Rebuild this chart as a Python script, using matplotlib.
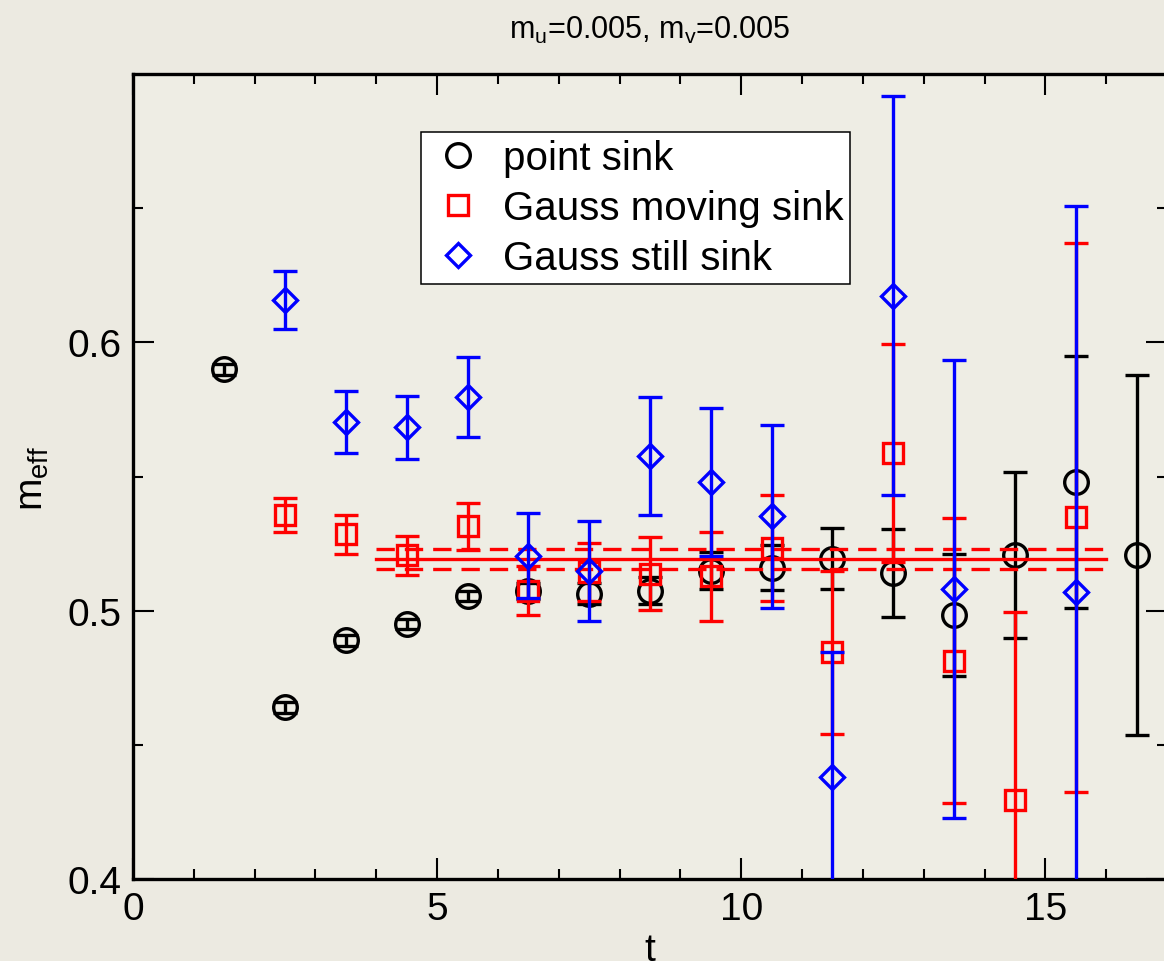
import matplotlib
matplotlib.use("Agg")
import matplotlib.pyplot as plt
from matplotlib.lines import Line2D
from matplotlib.ticker import MultipleLocator, FixedLocator

plt.rcParams['font.family'] = ['Liberation Sans', 'DejaVu Sans']
plt.rcParams['mathtext.fontset'] = 'custom'
plt.rcParams['mathtext.rm'] = 'Liberation Sans'

# effective mass vs. time slice
t_point = [1.5, 2.5, 3.5, 4.5, 5.5, 6.5, 7.5, 8.5, 9.5, 10.5, 11.5, 12.5, 13.5, 14.5, 15.5, 16.5]
m_point = [0.590, 0.464, 0.489, 0.495, 0.5055, 0.5074, 0.5063, 0.5075, 0.5149, 0.516,
           0.5193, 0.5140, 0.4985, 0.5208, 0.5479, 0.5208]
e_point = [0.002, 0.002, 0.002, 0.002, 0.002, 0.003, 0.004, 0.005, 0.007, 0.0084,
           0.0114, 0.0165, 0.0227, 0.031, 0.047, 0.067]

t_moving = [2.5, 3.5, 4.5, 5.5, 6.5, 7.5, 8.5, 9.5, 10.5, 11.5, 12.5, 13.5, 14.5, 15.5]
m_moving = [0.5357, 0.5284, 0.5206, 0.5314, 0.5075, 0.5144, 0.5137, 0.5129, 0.5233,
            0.4845, 0.5588, 0.4814, 0.4295, 0.5348]
e_moving = [0.0063, 0.0072, 0.0073, 0.0088, 0.0093, 0.0108, 0.0136, 0.0166, 0.0197,
            0.0304, 0.0407, 0.0532, 0.070, 0.1023]

t_still = [2.5, 3.5, 4.5, 5.5, 6.5, 7.5, 8.5, 9.5, 10.5, 11.5, 12.5, 13.5, 15.5]
m_still = [0.6159, 0.5704, 0.5683, 0.5796, 0.5205, 0.5149, 0.5577, 0.548, 0.5351,
           0.438, 0.6174, 0.5081, 0.5069]
e_still = [0.0108, 0.0116, 0.0117, 0.0149, 0.0158, 0.0186, 0.022, 0.0277, 0.0342,
           0.0465, 0.0743, 0.0855, 0.144]

# plateau fit to the Gauss moving sink data
fit_range = [4.0, 16.0]
fit_value = 0.5193
fit_error = 0.0037

labels = ['point sink', 'Gauss moving sink', 'Gauss still sink']
title = r'$\mathregular{m_u}$=0.005, $\mathregular{m_v}$=0.005'

W, H, DPI = 1164, 962, 100
bg = '#ECEAE1'
fig = plt.figure(figsize=(W / DPI, H / DPI), dpi=DPI, facecolor=bg)
ax = fig.add_axes([133 / W, 1 - 880 / H, (1167 - 133) / W, (880 - 75) / H])
ax.set_facecolor('#EEEDE4')

lw = 2.4
ms_circle, ms_square, ms_diamond = 17, 14.5, 12.5
common = dict(linestyle='none', markerfacecolor='none', capsize=8.3,
              elinewidth=lw, capthick=lw, markeredgewidth=2.4)

ax.errorbar(t_point, m_point, yerr=e_point, fmt='o', color='black',
            markersize=ms_circle, zorder=2, **common)
ax.errorbar(t_moving, m_moving, yerr=e_moving, fmt='s', color='#FF0000',
            markersize=ms_square, zorder=3, **common)

ax.plot(fit_range, [fit_value] * 2, color='#FF0000', lw=lw, zorder=3.5)
for s in (-1, 1):
    ax.plot(fit_range, [fit_value + s * fit_error] * 2, color='#FF0000', lw=lw,
            dashes=(5.5, 3.0), zorder=3.5)

ax.errorbar(t_still, m_still, yerr=e_still, fmt='D', color='#0000FF',
            markersize=ms_diamond, zorder=4, **common)

ax.set_xlim(0, 17)
ax.set_ylim(0.4, 0.7)
ax.xaxis.set_major_locator(FixedLocator([0, 5, 10, 15]))
ax.xaxis.set_minor_locator(MultipleLocator(1))
ax.yaxis.set_major_locator(FixedLocator([0.4, 0.5, 0.6]))
ax.yaxis.set_minor_locator(FixedLocator([0.45, 0.55, 0.65]))
ax.set_xticklabels(['0', '5', '10', '15'])
ax.set_yticklabels(['0.4', '0.5', '0.6'])

ax.tick_params(which='both', direction='in', top=True, right=True, width=1.5,
               labelsize=28, colors='black')
ax.tick_params(which='major', length=15)
ax.tick_params(which='minor', length=7.2)
ax.tick_params(axis='x', pad=9)
ax.tick_params(axis='y', pad=8)
for sp in ax.spines.values():
    sp.set_linewidth(2.4)

ax.set_xlabel('t', fontsize=28)
ax.xaxis.set_label_coords(650 / W, 1 - 933 / H, transform=fig.transFigure)
ax.xaxis.label.set_va('top')
ax.set_ylabel(r'$\mathregular{m_{eff}}$', fontsize=28)
ax.yaxis.set_label_coords(33 / W, 1 - 478 / H, transform=fig.transFigure)
ax.yaxis.label.set_va('center')

fig.text(650 / W, 1 - 30 / H, title, fontsize=22, ha='center', va='center')

handles = [
    Line2D([], [], ls='none', marker='o', color='black', markerfacecolor='none',
           markersize=ms_circle, markeredgewidth=2.4),
    Line2D([], [], ls='none', marker='s', color='#FF0000', markerfacecolor='none',
           markersize=ms_square, markeredgewidth=2.4),
    Line2D([], [], ls='none', marker='D', color='#0000FF', markerfacecolor='none',
           markersize=ms_diamond, markeredgewidth=2.4),
]
leg = ax.legend(handles, labels, loc='upper left',
                bbox_to_anchor=(421 / W, 1 - 133 / H), bbox_transform=fig.transFigure,
                borderaxespad=0, fontsize=29, frameon=True, fancybox=False,
                framealpha=1, edgecolor='black', facecolor='white',
                borderpad=0.17, handlelength=1.49, handletextpad=0.37,
                labelspacing=0.3)
leg.get_frame().set_linewidth(1.1)
leg.set_zorder(10)

fig.savefig('out.png', dpi=DPI, facecolor=bg)
